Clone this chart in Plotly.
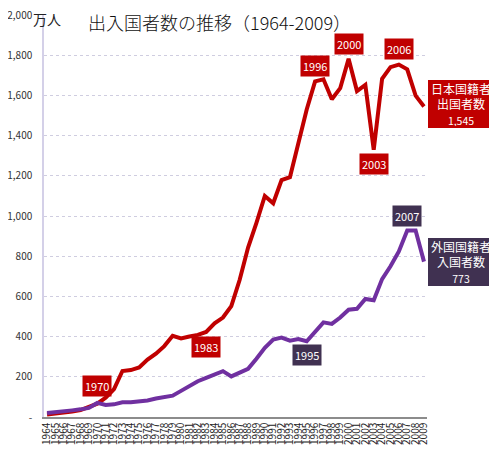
import plotly.graph_objects as go

years = list(range(1964, 2010))
japanese_departures = [12.8, 15.9, 21.2, 26.8, 34.4, 49.3, 66.3, 96.1, 139.2, 228.9,
                       233.6, 246.6, 285.3, 315.1, 352.6, 403.8, 390.9, 400.6, 408.7, 423.3,
                       465.9, 494.8, 551.6, 682.9, 842.7, 966.3, 1099.7, 1063.4, 1179.1, 1193.4,
                       1357.9, 1529.8, 1669.5, 1680.3, 1580.6, 1635.8, 1781.9, 1621.6, 1652.3, 1329.6,
                       1683.1, 1740.4, 1753.5, 1729.5, 1598.7, 1544.6]
foreign_entries = [20, 23, 28, 33, 38, 45, 70, 60, 63, 73,
                   74, 76, 82, 92, 100, 106, 130, 154, 178, 195,
                   211, 228, 202, 222, 240, 290, 344, 385, 395, 380,
                   388, 377, 424, 471, 463, 495, 534, 538, 587, 581,
                   686, 750, 824, 928, 928, 773]

y_ticks = [0, 200, 400, 600, 800, 1000, 1200, 1400, 1600, 1800, 2000]
y_ticktext = ["-", "200", "400", "600", "800", "1,000", "1,200", "1,400", "1,600", "1,800", "2,000"]

red_labels = [(1970, 156, "1970"), (1983, 347, "1983"), (1996, 1747, "1996"),
              (2000, 1856, "2000"), (2003, 1260, "2003"), (2006, 1831, "2006")]
purple_labels = [(1995, 308, "1995"), (2007, 1000, "2007")]

RED = "#C00000"
PURPLE = "#7030A0"
DARKP = "#403151"
FONT = "Noto Sans CJK JP"

fig = go.Figure()
fig.add_trace(go.Scatter(x=years, y=japanese_departures, mode="lines",
                         line=dict(color=RED, width=4), name="日本国籍者出国者数"))
fig.add_trace(go.Scatter(x=years, y=foreign_entries, mode="lines",
                         line=dict(color=PURPLE, width=4), name="外国国籍者入国者数"))

ann = []
for x, y, t in red_labels:
    ann.append(dict(x=x, y=y, text=t, showarrow=False, bgcolor=RED, borderpad=2,
                    font=dict(color="white", size=11, family=FONT)))
for x, y, t in purple_labels:
    ann.append(dict(x=x, y=y, text=t, showarrow=False, bgcolor=DARKP, borderpad=2,
                    font=dict(color="white", size=11, family=FONT)))

ann.append(dict(xref="paper", yref="y", x=1.003, y=1556, xanchor="left", yanchor="middle",
                text="日本国籍者<br>出国者数<br><span style='font-size:10.5px'>%s</span>" % f"{japanese_departures[-1]:,.0f}",
                showarrow=False, bgcolor=RED, width=62, height=44, borderpad=2, borderwidth=0,
                font=dict(color="white", size=12, family=FONT)))
ann.append(dict(xref="paper", yref="y", x=1.003, y=773, xanchor="left", yanchor="middle",
                text="外国国籍者<br>入国者数<br><span style='font-size:10.5px'>%d</span>" % foreign_entries[-1],
                showarrow=False, bgcolor=DARKP, width=62, height=44, borderpad=2, borderwidth=0,
                font=dict(color="white", size=12, family=FONT)))
ann.append(dict(xref="paper", yref="paper", x=-0.032, y=1.0174, xanchor="left", yanchor="top",
                text="万人", showarrow=False, borderpad=0,
                font=dict(color="#222", size=14, family=FONT)))
ann.append(dict(xref="paper", yref="paper", x=0.4595, y=1.0174, xanchor="center", yanchor="top",
                text="出入国者数の推移（1964-2009）", showarrow=False, borderpad=0,
                font=dict(color="#111", size=18, family=FONT, weight=300)))

fig.update_layout(
    width=489, height=445,
    margin=dict(l=36, r=70, t=7, b=36),
    paper_bgcolor="white", plot_bgcolor="white",
    showlegend=False,
    annotations=ann,
    font=dict(family=FONT),
)
fig.update_xaxes(range=[1963.64, 2009.36], tickvals=years, ticktext=[str(y) for y in years],
                 tickangle=-90, tickfont=dict(size=10, color="#222", family=FONT),
                 showgrid=False, showline=True, linecolor="#8C8C8C", linewidth=1.5,
                 ticks="", zeroline=False, automargin=False)
fig.update_yaxes(range=[0, 2000], tickvals=y_ticks, ticktext=y_ticktext,
                 tickfont=dict(size=10, color="#333", family=FONT),
                 showgrid=True, gridcolor="#CFCDE0", griddash="dot", gridwidth=1,
                 showline=True, linecolor="#D4D0E8", linewidth=1.5,
                 ticks="", ticklabelstandoff=8, ticklabeloverflow="allow",
                 zeroline=False, automargin=False)

fig.write_html("out.html")
